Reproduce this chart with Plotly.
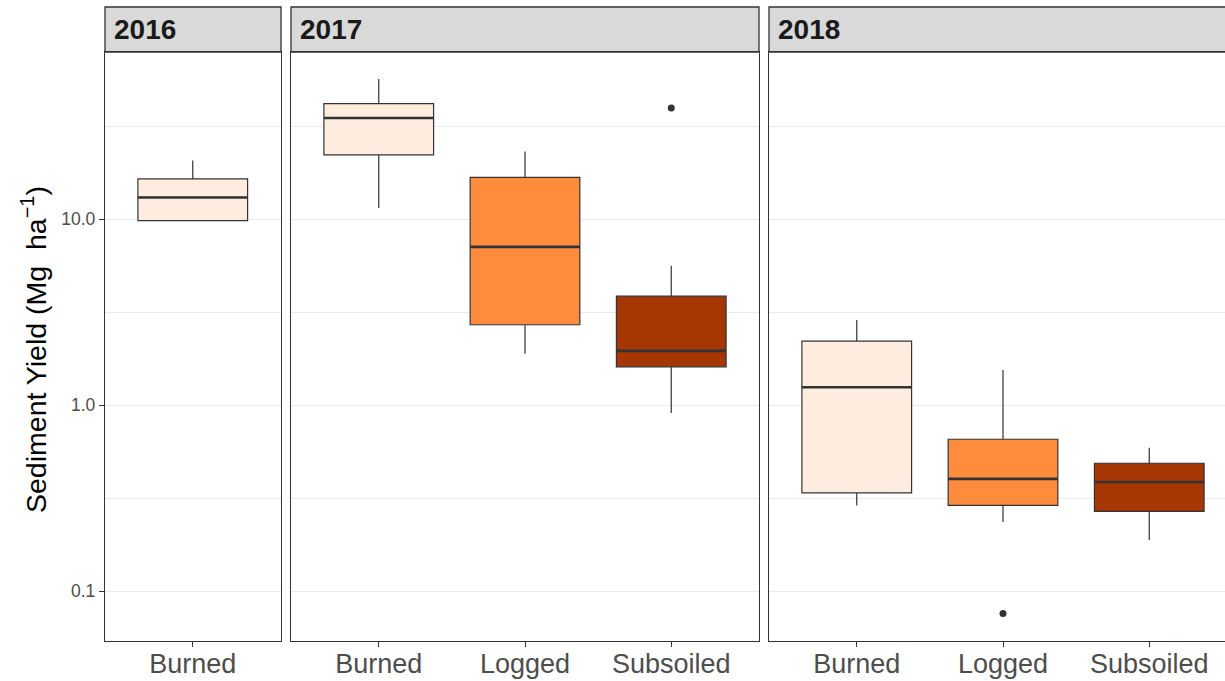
import numpy as np
import plotly.graph_objects as go

# box statistics (Mg ha^-1)
year = ["2016", "2017", "2017", "2017", "2018", "2018", "2018"]
treatment = ["Burned", "Burned", "Logged", "Subsoiled", "Burned", "Logged", "Subsoiled"]
lower = [9.83, 11.5, 1.89, 0.91, 0.289, 0.236, 0.189]
q1 = [9.83, 22.2, 2.71, 1.61, 0.338, 0.290, 0.269]
median = [13.1, 35.0, 7.1, 1.96, 1.25, 0.402, 0.387]
q3 = [16.5, 41.8, 16.8, 3.86, 2.21, 0.657, 0.488]
upper = [20.7, 56.8, 23.1, 5.63, 2.87, 1.55, 0.592]

outlier_year = ["2017", "2018"]
outlier_treatment = ["Subsoiled", "Logged"]
outlier_value = [39.6, 0.076]

years = ["2016", "2017", "2018"]
year_treatments = {"2016": ["Burned"], "2017": ["Burned", "Logged", "Subsoiled"],
                   "2018": ["Burned", "Logged", "Subsoiled"]}
colors = {"Burned": "#FEEDDE", "Logged": "#FD8D3C", "Subsoiled": "#A63603"}

W, H = 1225, 681
FONT = "Liberation Sans, Arial, sans-serif"
DARK = "#333333"

# panel geometry in pixels (ggplot facet with space="free", last panel cropped)
panel_left = [105, 291, 769]
panel_right = [281, 759, 1225]
panel_top, panel_bottom = 52, 641
strip_top = 7
unit_px = 146.25

fig = go.Figure()
axis_names = {"2016": ("x", "y"), "2017": ("x2", "y2"), "2018": ("x3", "y3")}

for i in range(len(year)):
    xa, ya = axis_names[year[i]]
    fig.add_trace(go.Box(
        x=[treatment[i]], q1=[q1[i]], median=[median[i]], q3=[q3[i]],
        lowerfence=[lower[i]], upperfence=[upper[i]],
        width=0.75, whiskerwidth=0, boxpoints=False,
        fillcolor=colors[treatment[i]], line=dict(color=DARK, width=1.2),
        xaxis=xa, yaxis=ya, showlegend=False, hoverinfo="skip"))
    # thicker median line
    fig.add_trace(go.Box(
        x=[treatment[i]], q1=[median[i]], median=[median[i]], q3=[median[i]],
        lowerfence=[median[i]], upperfence=[median[i]],
        width=0.75, whiskerwidth=0, boxpoints=False,
        fillcolor="rgba(0,0,0,0)", line=dict(color=DARK, width=2.6),
        xaxis=xa, yaxis=ya, showlegend=False, hoverinfo="skip"))

for j in range(len(outlier_value)):
    xa, ya = axis_names[outlier_year[j]]
    fig.add_trace(go.Scatter(
        x=[outlier_treatment[j]], y=[outlier_value[j]], mode="markers",
        marker=dict(color=DARK, size=7), xaxis=xa, yaxis=ya,
        showlegend=False, hoverinfo="skip"))

y_range = [-1.267, 1.899]
major = [0.1, 1, 10]
minor = list(10.0 ** np.array([-0.5, 0.5, 1.5]))
y_dom = [(H - panel_bottom) / H, (H - panel_top) / H]

layout = dict(
    width=W, height=H, autosize=False,
    margin=dict(l=0, r=0, t=0, b=0, pad=0),
    paper_bgcolor="white", plot_bgcolor="white",
    font=dict(family=FONT, color="#4D4D4D"),
    showlegend=False,
)

for k, yr in enumerate(years):
    xa, ya = axis_names[yr]
    xkey = "xaxis" if xa == "x" else "xaxis" + xa[1:]
    ykey = "yaxis" if ya == "y" else "yaxis" + ya[1:]
    cats = year_treatments[yr]
    x0 = panel_left[k] / W
    x1 = panel_right[k] / W
    width_units = (panel_right[k] - panel_left[k]) / unit_px
    layout[xkey] = dict(
        domain=[x0, x1], anchor=ya, type="category",
        categoryorder="array", categoryarray=cats,
        range=[-0.6, -0.6 + width_units],
        showgrid=False, zeroline=False,
        showline=True, mirror=True, linecolor=DARK, linewidth=1.3,
        ticks="outside", ticklen=5, tickwidth=1.2, tickcolor=DARK,
        ticklabelstandoff=-7,
        tickfont=dict(size=27, color="#4D4D4D", family=FONT),
        automargin=False, fixedrange=True)
    ycfg = dict(
        domain=y_dom, anchor=xa, type="log", range=y_range,
        tickvals=major, ticktext=["0.1", "1.0", "10.0"],
        showgrid=True, gridcolor="#EBEBEB", gridwidth=1.3,
        minor=dict(tickvals=minor, showgrid=True, gridcolor="#EBEBEB",
                   gridwidth=1.1, ticks=""),
        zeroline=False, showline=True, linecolor=DARK, linewidth=1.3,
        mirror=(k < 2), automargin=False, fixedrange=True)
    if k == 0:
        ycfg.update(ticks="outside", ticklen=5, tickwidth=1.2, tickcolor=DARK,
                    tickfont=dict(size=17.5, color="#4D4D4D", family=FONT))
    else:
        ycfg.update(matches="y", showticklabels=False, ticks="")
    layout[ykey] = ycfg

shapes = []
annotations = []
for k, yr in enumerate(years):
    xa, _ = axis_names[yr]
    ext = 1.0 if k < 2 else 1.03
    shapes.append(dict(
        type="rect", xref=xa + " domain", yref="paper",
        x0=0, x1=ext, y0=(H - panel_top) / H, y1=(H - strip_top) / H,
        fillcolor="#D9D9D9", line=dict(color=DARK, width=1.3), layer="below"))
    annotations.append(dict(
        text="<b>" + yr + "</b>", xref=xa + " domain", yref="paper",
        x=0, xshift=7, y=(H - (panel_top + strip_top) / 2) / H,
        xanchor="left", yanchor="middle", showarrow=False,
        font=dict(size=28, color="#1A1A1A", family=FONT)))

annotations.append(dict(
    text="Sediment Yield (Mg  ha<sup>\u22121</sup>)", xref="paper", yref="paper",
    x=34 / W, y=(H - 350) / H, textangle=-90, xanchor="center", yanchor="middle",
    showarrow=False, font=dict(size=28.5, color="black", family=FONT)))

layout["shapes"] = shapes
layout["annotations"] = annotations
fig.update_layout(**layout)

# drop the default page margin so the figure sits at the window's corner
fig.write_html("out.html", config={"displayModeBar": False},
               post_script="document.body.style.margin='0';"
                           "document.body.style.overflow='hidden';")
